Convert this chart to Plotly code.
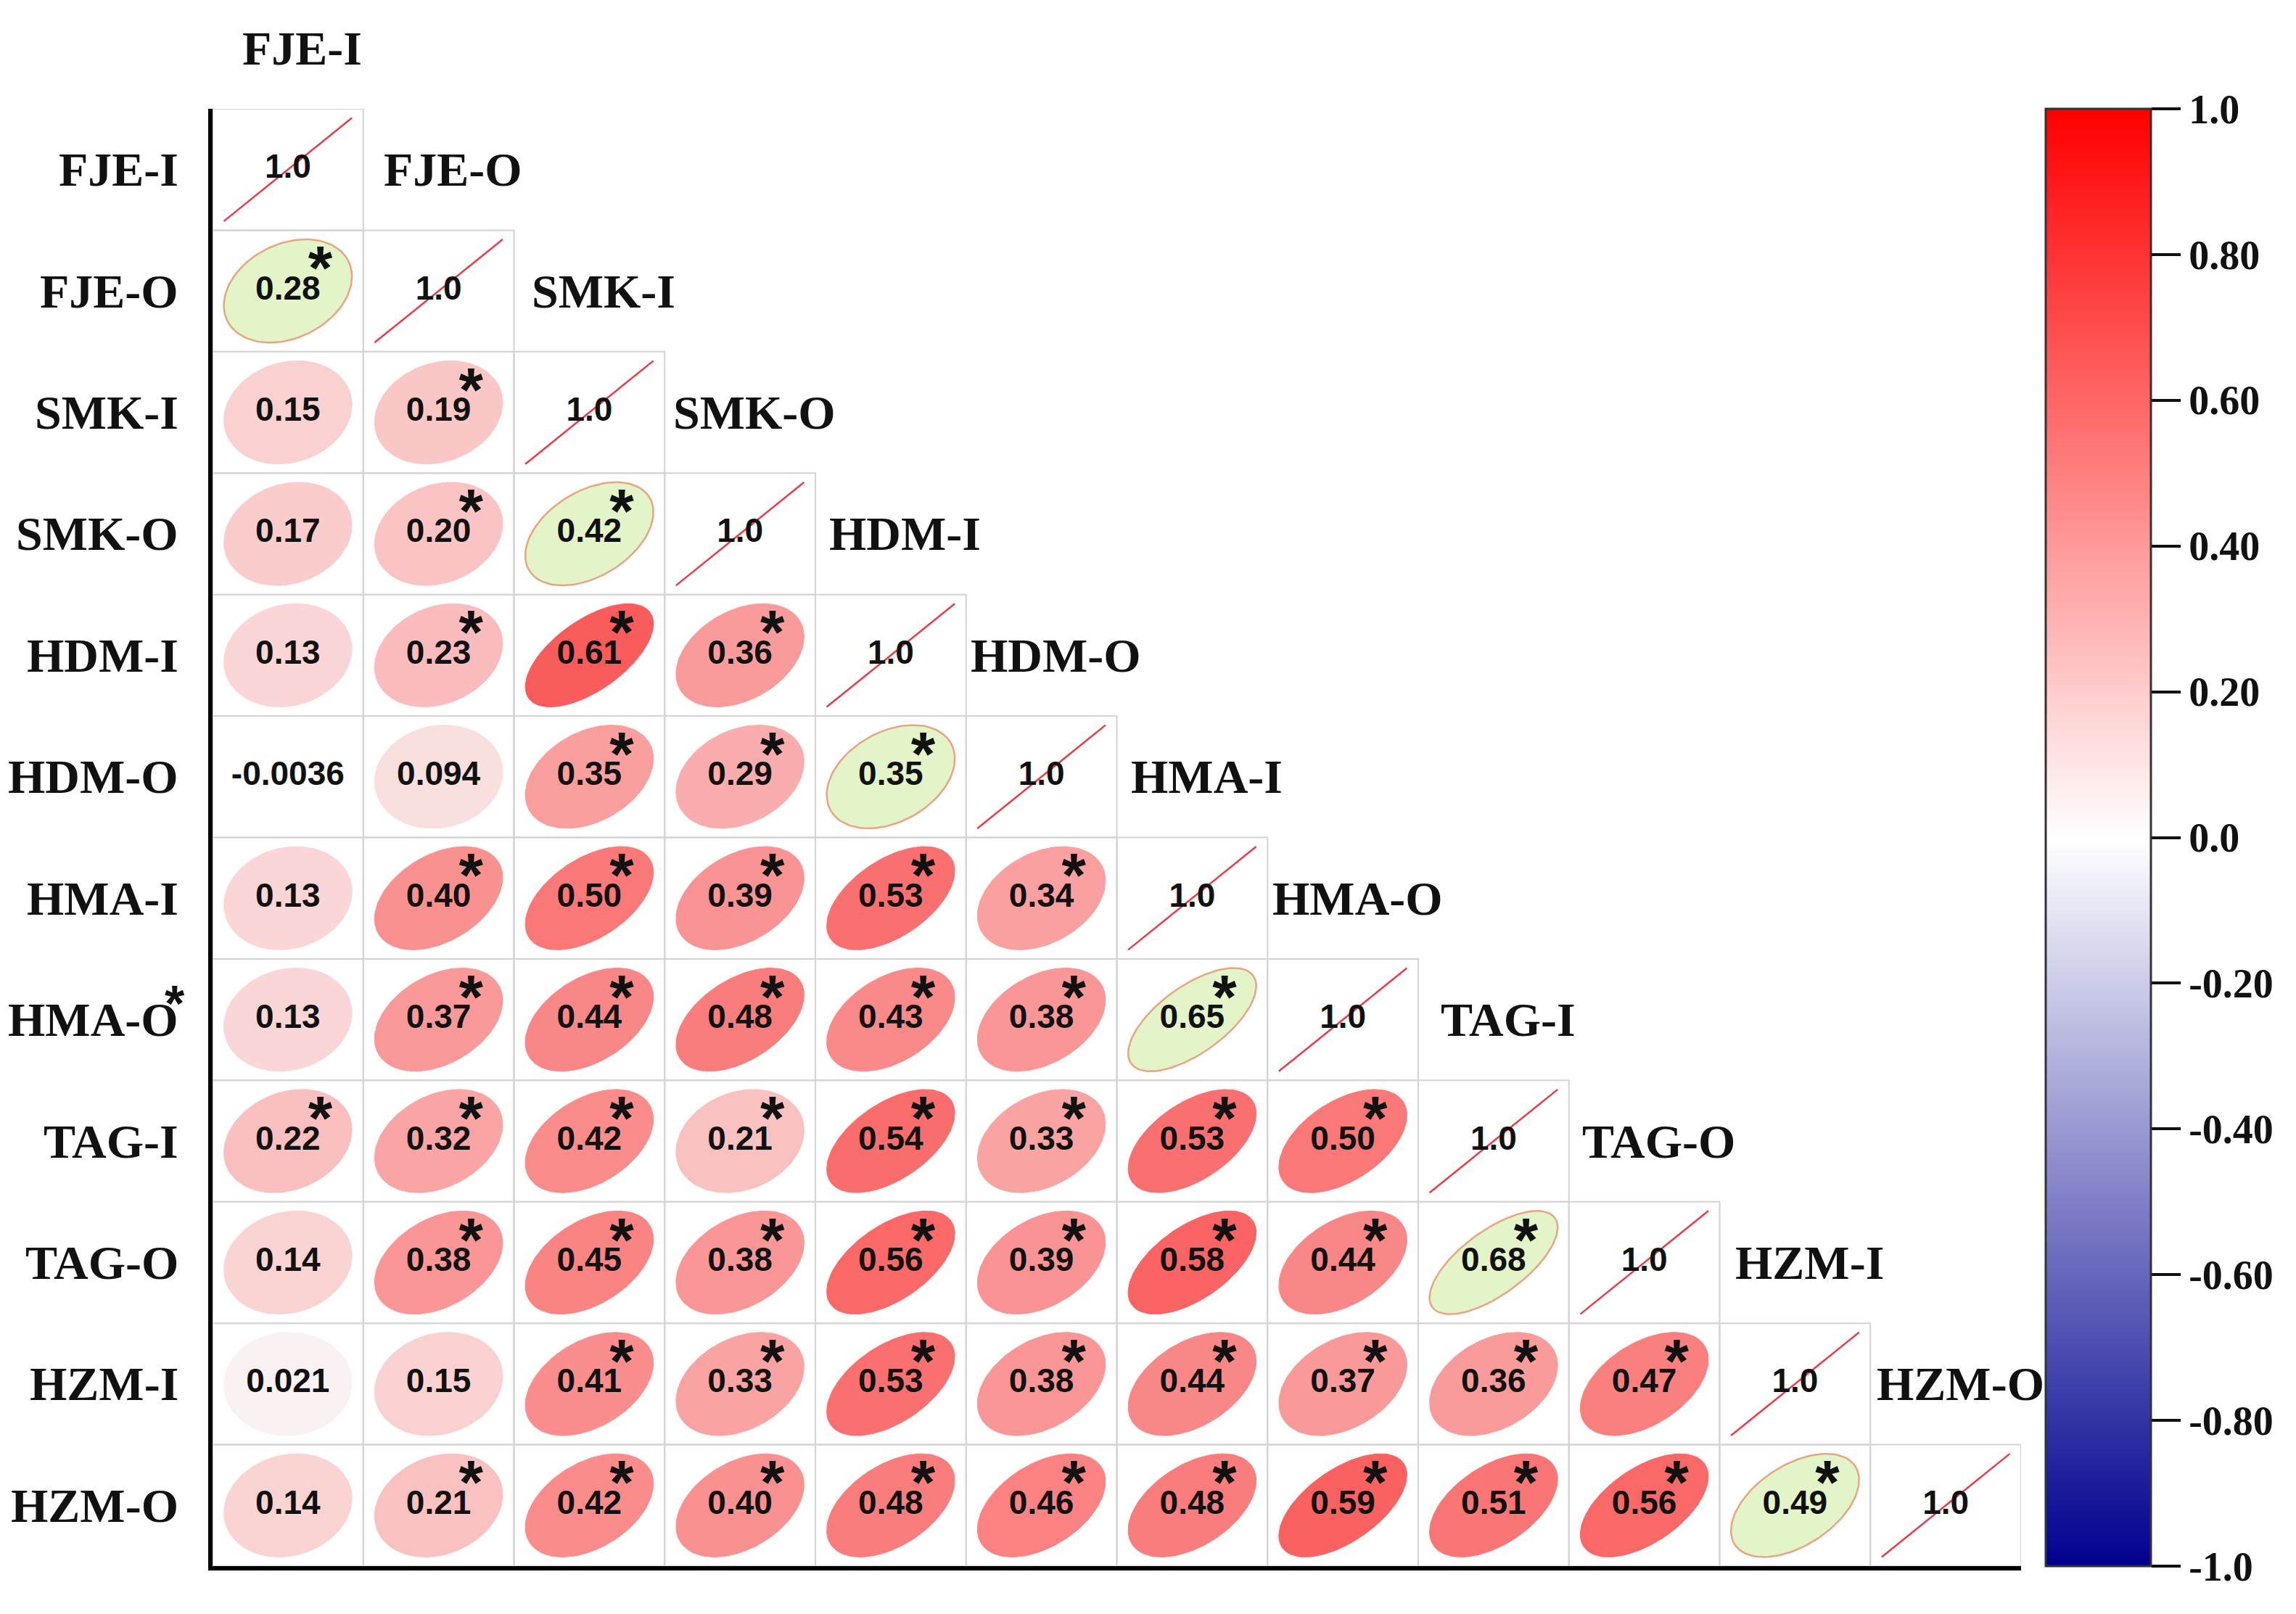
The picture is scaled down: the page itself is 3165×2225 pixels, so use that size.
import numpy as np
import plotly.graph_objects as go

# ---------------- data ----------------
labels = ["FJE-I", "FJE-O", "SMK-I", "SMK-O", "HDM-I", "HDM-O",
          "HMA-I", "HMA-O", "TAG-I", "TAG-O", "HZM-I", "HZM-O"]

# lower-triangle correlation rows (column order = labels)
r_FJE_I = [1.0]
r_FJE_O = [0.28, 1.0]
r_SMK_I = [0.15, 0.19, 1.0]
r_SMK_O = [0.17, 0.20, 0.42, 1.0]
r_HDM_I = [0.13, 0.23, 0.61, 0.36, 1.0]
r_HDM_O = [-0.0036, 0.094, 0.35, 0.29, 0.35, 1.0]
r_HMA_I = [0.13, 0.40, 0.50, 0.39, 0.53, 0.34, 1.0]
r_HMA_O = [0.13, 0.37, 0.44, 0.48, 0.43, 0.38, 0.65, 1.0]
r_TAG_I = [0.22, 0.32, 0.42, 0.21, 0.54, 0.33, 0.53, 0.50, 1.0]
r_TAG_O = [0.14, 0.38, 0.45, 0.38, 0.56, 0.39, 0.58, 0.44, 0.68, 1.0]
r_HZM_I = [0.021, 0.15, 0.41, 0.33, 0.53, 0.38, 0.44, 0.37, 0.36, 0.47, 1.0]
r_HZM_O = [0.14, 0.21, 0.42, 0.40, 0.48, 0.46, 0.48, 0.59, 0.51, 0.56, 0.49, 1.0]

# significance marks (1 = "*")
s_FJE_I = [0]
s_FJE_O = [1, 0]
s_SMK_I = [0, 1, 0]
s_SMK_O = [0, 1, 1, 0]
s_HDM_I = [0, 1, 1, 1, 0]
s_HDM_O = [0, 0, 1, 1, 1, 0]
s_HMA_I = [0, 1, 1, 1, 1, 1, 0]
s_HMA_O = [0, 1, 1, 1, 1, 1, 1, 0]
s_TAG_I = [1, 1, 1, 1, 1, 1, 1, 1, 0]
s_TAG_O = [0, 1, 1, 1, 1, 1, 1, 1, 1, 0]
s_HZM_I = [0, 0, 1, 1, 1, 1, 1, 1, 1, 1, 0]
s_HZM_O = [0, 1, 1, 1, 1, 1, 1, 1, 1, 1, 1, 0]

# inflow / outflow pairs of the same site (highlighted in green)
highlight_pairs = [("FJE-O", "FJE-I"), ("SMK-O", "SMK-I"), ("HDM-O", "HDM-I"),
                   ("HMA-O", "HMA-I"), ("TAG-O", "TAG-I"), ("HZM-O", "HZM-I")]

cbar_vals = [1.0, 0.8, 0.6, 0.4, 0.2, 0.0, -0.2, -0.4, -0.6, -0.8, -1.0]
cbar_text = ["1.0", "0.80", "0.60", "0.40", "0.20", "0.0",
             "-0.20", "-0.40", "-0.60", "-0.80", "-1.0"]

corr_rows = [r_FJE_I, r_FJE_O, r_SMK_I, r_SMK_O, r_HDM_I, r_HDM_O,
             r_HMA_I, r_HMA_O, r_TAG_I, r_TAG_O, r_HZM_I, r_HZM_O]
sig_rows = [s_FJE_I, s_FJE_O, s_SMK_I, s_SMK_O, s_HDM_I, s_HDM_O,
            s_HMA_I, s_HMA_O, s_TAG_I, s_TAG_O, s_HZM_I, s_HZM_O]

# ---------------- styling ----------------
n = len(labels)
W, H = 3165, 2225
PAGE_OFF = 8  # default body margin of the html page
ML, MR, MT, MB = 293 - PAGE_OFF, 379 + PAGE_OFF, 150 - PAGE_OFF, 66 + PAGE_OFF
SCALE = 0.85
SERIF = "Liberation Serif"
SANS = "Liberation Sans"
colorscale = [[0.0, "rgb(0,0,143)"], [0.5, "rgb(255,255,255)"], [1.0, "rgb(255,0,0)"]]
GREEN_FILL = "rgb(226,244,200)"
GREEN_LINE = "rgb(232,165,130)"
DIAG_COLOR = "rgb(232,60,75)"


def cell_color(r):
    if r >= 0:
        g = int(round(255 * (1 - r)))
        return f"rgb(250,{max(g-8,0)},{max(g-8,0)})"
    t = -r
    v = int(round(255 * (1 - t)))
    b = int(round(255 - (255 - 143) * t))
    return f"rgb({v},{v},{b})"


def fmt(r):
    return "{:#.2g}".format(r)


def yrow(i):
    return (n - 1) - i


def ypaper(i):
    return (yrow(i) + 0.5) / n


fig = go.Figure()
shapes = []
pair_idx = {(labels.index(a), labels.index(b)) for a, b in highlight_pairs}

k = np.linspace(0, 2 * np.pi, 120)
txt_x, txt_y, txt_s = [], [], []
star_x, star_y = [], []

for i, row in enumerate(corr_rows):
    yc = yrow(i)
    for j, r in enumerate(row):
        # grid cell
        shapes.append(dict(type="rect", xref="x", yref="y",
                           x0=j - 0.5, x1=j + 0.5, y0=yc - 0.5, y1=yc + 0.5,
                           line=dict(color="rgb(212,212,214)", width=2),
                           layer="below"))
        if i == j:
            fig.add_trace(go.Scatter(
                x=[j - SCALE / 2, j + SCALE / 2], y=[yc - SCALE / 2, yc + SCALE / 2],
                mode="lines", line=dict(color=DIAG_COLOR, width=2.5),
                hoverinfo="skip", showlegend=False))
        else:
            d = np.arccos(r)
            ex = np.cos(k + d / 2) / 2 * SCALE + j
            ey = np.cos(k - d / 2) / 2 * SCALE + yc
            if (i, j) in pair_idx:
                fill, lc, lw = GREEN_FILL, GREEN_LINE, 2.5
            else:
                fill = cell_color(r)
                lc, lw = fill, 1
            fig.add_trace(go.Scatter(
                x=ex, y=ey, mode="lines", fill="toself", fillcolor=fill,
                line=dict(color=lc, width=lw), hoverinfo="skip", showlegend=False))
        txt_x.append(j)
        txt_y.append(yc)
        txt_s.append(fmt(r))
        if sig_rows[i][j]:
            star_x.append(j + 0.215)
            star_y.append(yc + 0.14)

fig.add_trace(go.Scatter(
    x=txt_x, y=txt_y, text=txt_s, mode="text", textposition="middle center",
    textfont=dict(family=SANS, size=46, color="#111111", weight=700),
    hoverinfo="skip", showlegend=False))
fig.add_trace(go.Scatter(
    x=star_x, y=star_y, text=["*"] * len(star_x), mode="text",
    textposition="middle center",
    textfont=dict(family=SANS, size=86, color="#111111", weight=700),
    hoverinfo="skip", showlegend=False))

# colorbar carrier
fig.add_trace(go.Scatter(
    x=[None], y=[None], mode="markers",
    marker=dict(color=[0], cmin=-1, cmax=1, colorscale=colorscale, showscale=True,
                colorbar=dict(
                    thickness=145, len=1, lenmode="fraction", y=0.5, yanchor="middle",
                    x=(2820 - PAGE_OFF - ML) / (W - ML - MR), xanchor="left", xpad=0, ypad=0,
                    outlinewidth=3, outlinecolor="#333333",
                    ticks="outside", ticklen=40, tickwidth=4, tickcolor="#111111",
                    tickvals=cbar_vals, ticktext=cbar_text,
                    tickfont=dict(family=SERIF, size=56, color="#111111", weight=700))),
    hoverinfo="skip", showlegend=False))

annotations = []
for i, lab in enumerate(labels):
    # row labels
    annotations.append(dict(x=-0.5, y=ypaper(i), xref="x", yref="paper", text=lab,
                            xanchor="right", yanchor="middle", xshift=-45, showarrow=False,
                            font=dict(family=SERIF, size=66, color="#111111", weight=700)))
    # column labels (placed beside the diagonal)
    annotations.append(dict(x=i, y=ypaper(i - 1), xref="x", yref="paper", text=lab,
                            xanchor="center", yanchor="middle", xshift=20, showarrow=False,
                            font=dict(family=SERIF, size=66, color="#111111", weight=700)))
# stray asterisk over the "HMA-O" row label (as in the original figure)
annotations.append(dict(x=-0.5, y=ypaper(labels.index("HMA-O")), xref="x", yref="paper",
                        text="*", xanchor="center", yanchor="middle", xshift=-52, yshift=22,
                        showarrow=False,
                        font=dict(family=SANS, size=70, color="#111111", weight=700)))

fig.update_layout(
    width=W, height=H, margin=dict(l=ML, r=MR, t=MT, b=MB, autoexpand=False),
    plot_bgcolor="white", paper_bgcolor="white",
    shapes=shapes, annotations=annotations, hovermode=False,
    xaxis=dict(range=[-0.5, n - 0.5], showgrid=False, zeroline=False, showticklabels=False,
               ticks="", showline=True, linecolor="black", linewidth=6, fixedrange=True),
    yaxis=dict(range=[-0.5, n - 0.5], showgrid=False, zeroline=False, showticklabels=False,
               ticks="", showline=True, linecolor="black", linewidth=6, fixedrange=True),
)

fig.write_html("out.html")
